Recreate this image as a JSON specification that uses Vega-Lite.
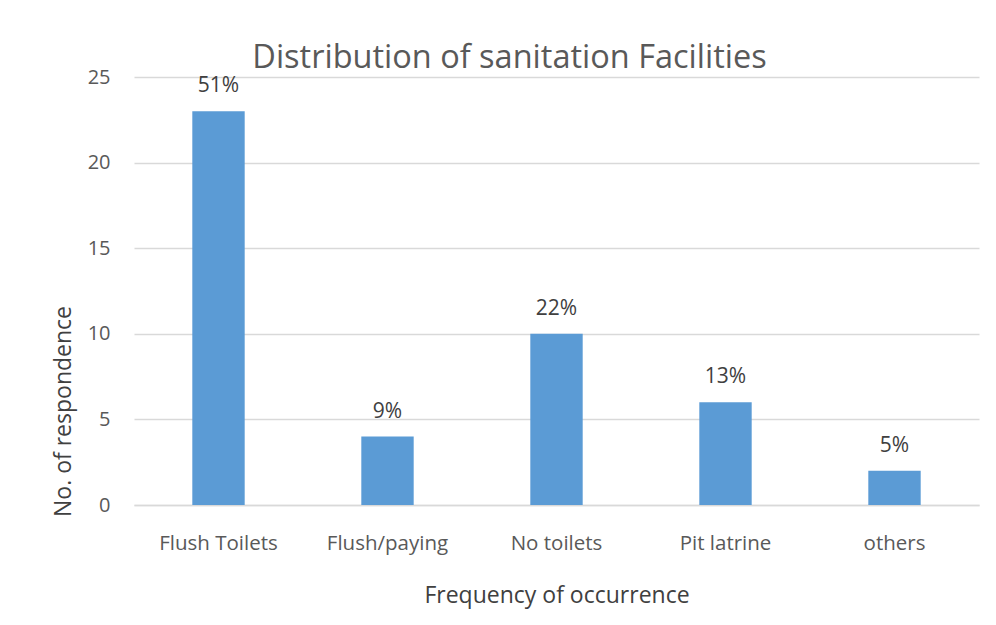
{
  "$schema": "https://vega.github.io/schema/vega-lite/v6.json",
  "autosize": {"type": "none"},
  "width": 845,
  "height": 428,
  "padding": {"left": 134, "top": 77, "right": 17, "bottom": 120},
  "background": "white",
  "title": {
    "text": "Distribution of sanitation Facilities",
    "font": "Open Sans",
    "fontSize": 32.5,
    "fontWeight": "normal",
    "color": "#595959",
    "anchor": "middle",
    "offset": 2,
    "dx": -47,
    "dy": 9
  },
  "data": {
    "values": [
      {"facility": "Flush Toilets", "count": 23, "pct": "51%"},
      {"facility": "Flush/paying", "count": 4, "pct": "9%"},
      {"facility": "No toilets", "count": 10, "pct": "22%"},
      {"facility": "Pit latrine", "count": 6, "pct": "13%"},
      {"facility": "others", "count": 2, "pct": "5%"}
    ]
  },
  "encoding": {
    "x": {
      "field": "facility",
      "type": "nominal",
      "sort": null,
      "scale": {"paddingInner": 0.69, "paddingOuter": 0.345},
      "axis": {
        "title": "Frequency of occurrence",
        "titleFont": "Open Sans",
        "titleFontSize": 23,
        "titleFontWeight": "normal",
        "titleColor": "#404040",
        "titlePadding": 31,
        "labelFont": "Open Sans",
        "labelFontSize": 20.5,
        "labelColor": "#595959",
        "labelAngle": 0,
        "labelPadding": 28,
        "ticks": false,
        "domainColor": "#d9d9d9",
        "domainWidth": 1.5
      }
    },
    "y": {
      "field": "count",
      "type": "quantitative",
      "scale": {"domain": [0, 25]},
      "axis": {
        "title": "No. of respondence",
        "titleFont": "Open Sans",
        "titleFontSize": 23,
        "titleFontWeight": "normal",
        "titleColor": "#404040",
        "titlePadding": 12,
        "titleY": 334,
        "labelFont": "Open Sans",
        "labelFontSize": 20,
        "labelColor": "#595959",
        "labelPadding": 24,
        "ticks": false,
        "domain": false,
        "values": [0, 5, 10, 15, 20, 25],
        "gridColor": "#d9d9d9",
        "gridWidth": 1.5
      }
    }
  },
  "layer": [
    {"mark": {"type": "bar", "color": "#5B9BD5"}},
    {
      "mark": {"type": "text", "baseline": "alphabetic", "dy": -19, "font": "Open Sans", "fontSize": 21, "color": "#404040"},
      "encoding": {"text": {"field": "pct"}}
    }
  ],
  "config": {"view": {"stroke": null}}
}
